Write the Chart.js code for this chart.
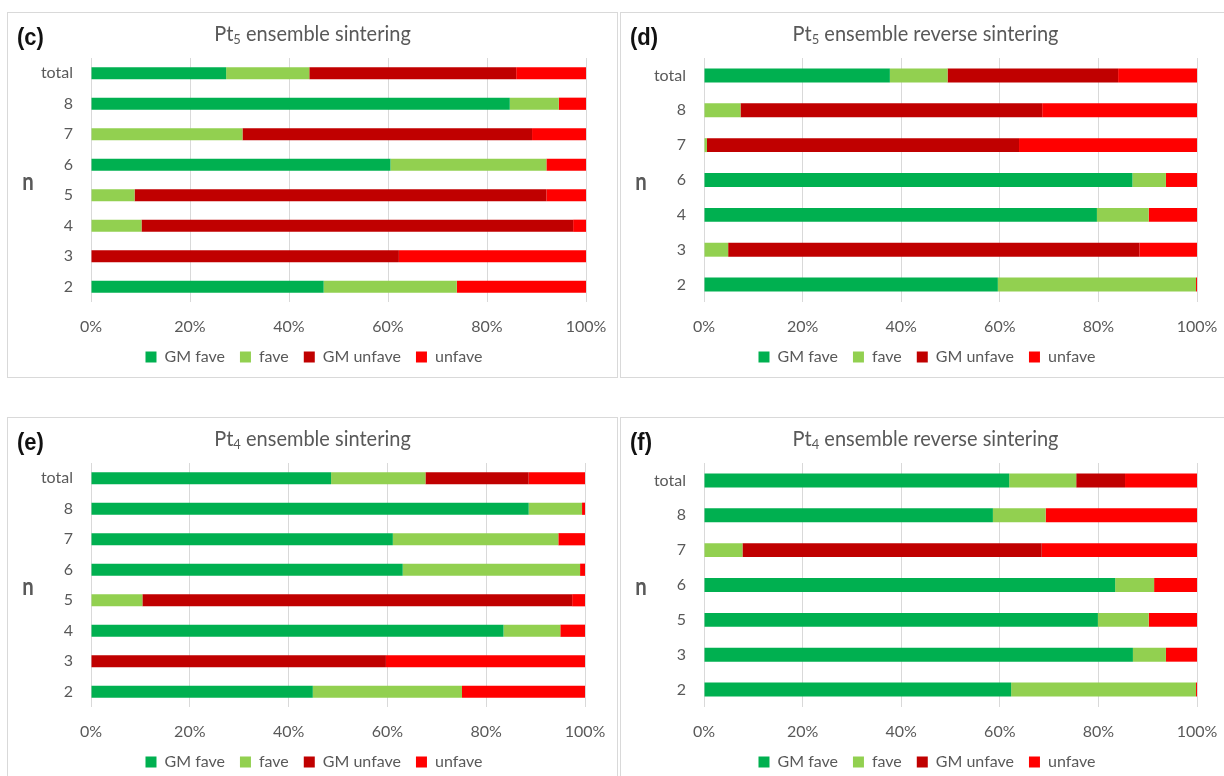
<!DOCTYPE html>
<html>
<head>
<meta charset="utf-8">
<script src="https://cdn.jsdelivr.net/npm/chart.js@4/dist/chart.umd.min.js"></script>
<style>
  html, body { margin: 0; padding: 0; background: #ffffff; width: 1224px; height: 776px; overflow: hidden; }
  .panel { position: absolute; border: 1px solid #d9d9d9; background: #fff; width: 609px; height: 364px; }
  .panel canvas { position: absolute; left: 0; top: 0; }
  .tag { position: absolute; left: 9px; top: 11px; font: bold 22px "Liberation Sans", Arial, sans-serif; color: #111; line-height: 26px; transform: scaleY(1.05); transform-origin: left top; }
  .title { position: absolute; left: 0; width: 100%; top: 6px; text-align: center; font: 20px Lato, "Open Sans", sans-serif; color: #595959; line-height: 26px; transform: scaleY(1.08); }
  .title sub { font-size: 13px; vertical-align: -3px; line-height: 0; }
  .ylab { position: absolute; left: 10px; width: 20px; text-align: center; top: 154px; font: bold 24px Lato, sans-serif; color: #595959; line-height: 28px; transform: scaleX(0.85); }
</style>
</head>
<body>
<div class="panel" style="left:7px;top:12px;">
  <canvas id="chartC" width="609" height="364"></canvas>
  <div class="tag">(c)</div>
  <div class="title">Pt<sub>5</sub> ensemble sintering</div>
  <div class="ylab">n</div>
</div>
<div class="panel" style="left:620px;top:12px;">
  <canvas id="chartD" width="609" height="364"></canvas>
  <div class="tag">(d)</div>
  <div class="title">Pt<sub>5</sub> ensemble reverse sintering</div>
  <div class="ylab">n</div>
</div>
<div class="panel" style="left:7px;top:417px;">
  <canvas id="chartE" width="609" height="364"></canvas>
  <div class="tag">(e)</div>
  <div class="title">Pt<sub>4</sub> ensemble sintering</div>
  <div class="ylab">n</div>
</div>
<div class="panel" style="left:620px;top:417px;">
  <canvas id="chartF" width="609" height="364"></canvas>
  <div class="tag">(f)</div>
  <div class="title">Pt<sub>4</sub> ensemble reverse sintering</div>
  <div class="ylab">n</div>
</div>
<script>
// Outcome categories (stack order, left to right)
const seriesNames = ['GM fave', 'fave', 'GM unfave', 'unfave'];

// (c) Pt5 ensemble sintering — share of events per ensemble size n (%)
const catsC      = ['total', '8', '7', '6', '5', '4', '3', '2'];
const gmFaveC    = [27.3, 84.6, 0.0, 60.5, 0.0, 0.0, 0.0, 47.0];
const faveC      = [16.8, 9.9, 30.6, 31.5, 8.8, 10.2, 0.0, 26.9];
const gmUnfaveC  = [41.8, 0.0, 58.5, 0.0, 83.2, 87.2, 62.2, 0.0];
const unfaveC    = [14.1, 5.5, 10.9, 8.0, 8.0, 2.6, 37.8, 26.1];

// (d) Pt5 ensemble reverse sintering
const catsD      = ['total', '8', '7', '6', '4', '3', '2'];
const gmFaveD    = [37.7, 0.0, 0.0, 86.9, 79.7, 0.0, 59.6];
const faveD      = [11.7, 7.4, 0.6, 6.8, 10.5, 4.9, 40.2];
const gmUnfaveD  = [34.6, 61.2, 63.3, 0.0, 0.0, 83.4, 0.0];
const unfaveD    = [16.0, 31.4, 36.1, 6.3, 9.8, 11.7, 0.2];

// (e) Pt4 ensemble sintering
const catsE      = ['total', '8', '7', '6', '5', '4', '3', '2'];
const gmFaveE    = [48.6, 88.6, 61.1, 63.1, 0.0, 83.5, 0.0, 44.9];
const faveE      = [19.1, 10.8, 33.5, 35.9, 10.4, 11.5, 0.0, 30.2];
const gmUnfaveE  = [20.9, 0.0, 0.0, 0.0, 87.0, 0.0, 59.7, 0.0];
const unfaveE    = [11.4, 0.6, 5.4, 1.0, 2.6, 5.0, 40.3, 24.9];

// (f) Pt4 ensemble reverse sintering
const catsF      = ['total', '8', '7', '6', '5', '3', '2'];
const gmFaveF    = [61.9, 58.6, 0.0, 83.4, 79.9, 87.0, 62.3];
const faveF      = [13.6, 10.7, 7.8, 7.9, 10.3, 6.7, 37.5];
const gmUnfaveF  = [9.9, 0.0, 60.7, 0.0, 0.0, 0.0, 0.0];
const unfaveF    = [14.6, 30.7, 31.5, 8.7, 9.8, 6.3, 0.2];

const seriesColors = ['#00b050', '#92d050', '#c00000', '#ff0000'];
const TEXT = '#595959';
const GRID = '#d9d9d9';
const FONT = 'Lato, "Open Sans", sans-serif';
const FONT_SIZE = 16;
const LEGEND_CENTER = 306;   // horizontal centre of the legend row within a panel

// Centre the legend row on the panel rather than on the padded layout box
const legendCentre = {
  id: 'legendCentre',
  afterLayout(chart) {
    const lg = chart.legend;
    if (!lg) return;
    const shift = LEGEND_CENTER - (lg.left + lg.right) / 2;
    lg.left += shift;
    lg.right += shift;
  }
};

function drawPanel(id, cats, values, padRight) {
  const datasets = values.map((vals, i) => ({
    label: seriesNames[i],
    data: vals,
    backgroundColor: seriesColors[i],
    borderWidth: 0,
    barPercentage: 0.4,
    categoryPercentage: 1.0
  }));
  new Chart(document.getElementById(id), {
    type: 'bar',
    data: { labels: cats, datasets },
    plugins: [legendCentre],
    options: {
      indexAxis: 'y',
      responsive: false,
      animation: false,
      layout: { padding: { top: 45, left: 0, right: padRight, bottom: 2 } },
      plugins: {
        legend: {
          position: 'bottom',
          labels: {
            boxWidth: 11, boxHeight: 11, padding: 15,
            color: TEXT, font: { family: FONT, size: FONT_SIZE }
          }
        },
        tooltip: { enabled: false }
      },
      scales: {
        x: {
          stacked: true, min: 0, max: 100,
          ticks: {
            stepSize: 20, padding: 15, color: TEXT,
            font: { family: FONT, size: FONT_SIZE },
            callback: v => v + '%'
          },
          grid: { color: GRID, drawTicks: false },
          border: { display: false },
          // fixed axis band; end labels sit inside the layout padding
          afterFit: s => { s.height = 32; s.paddingLeft = 0; s.paddingRight = 0; }
        },
        y: {
          stacked: true,
          ticks: { padding: 18, color: TEXT, font: { family: FONT, size: FONT_SIZE } },
          grid: { display: false, drawTicks: false },
          border: { display: false },
          afterFit: s => { s.width = 83; }
        }
      }
    }
  });
}

drawPanel('chartC', catsC, [gmFaveC, faveC, gmUnfaveC, unfaveC], 31);
drawPanel('chartD', catsD, [gmFaveD, faveD, gmUnfaveD, unfaveD], 33);
drawPanel('chartE', catsE, [gmFaveE, faveE, gmUnfaveE, unfaveE], 32);
drawPanel('chartF', catsF, [gmFaveF, faveF, gmUnfaveF, unfaveF], 33);
</script>
</body>
</html>
